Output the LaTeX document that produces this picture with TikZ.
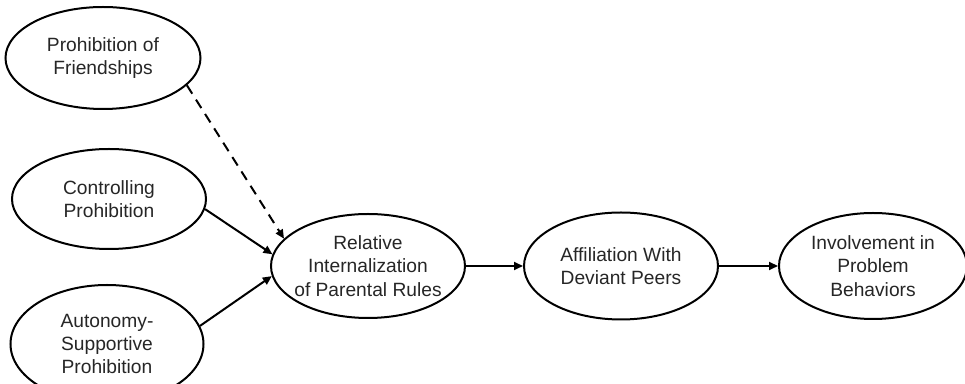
\documentclass[tikz,border=0pt]{standalone}
\usepackage{fontspec}
\setmainfont{Liberation Sans}
\usetikzlibrary{shapes}
\usetikzlibrary{positioning}
\usetikzlibrary{arrows.meta}

\begin{document}
\begin{tikzpicture}[
x=0.5pt, y=-0.5pt,
construct/.style={
ellipse,
line width=1pt,
draw=black,
text=black!85,
align=center,
font=\fontsize{9.6}{11.6}\selectfont,
inner xsep=-4pt,
inner ysep=0pt,
minimum width=97pt,
minimum height=51pt},
myarrow/.style={line width=1pt,-{Triangle[length=4.5pt,width=4pt]}},
node distance=29pt
]
\clip (0,0) rectangle (965,384);
\node[construct,minimum height=52pt] (rel) at (368,266) {Relative\\Internalization\\of Parental Rules};
      \node[construct,right=28.5pt of rel,minimum height=53.5pt] (aff) {Affiliation With\\Deviant Peers};
      \node[construct,right=29.5pt of aff,minimum width=94pt,minimum height=53pt] (inv) {Involvement in\\Problem\\Behaviors};
      \node[construct,left=31.5pt of rel,yshift=33.5pt,minimum height=50pt] (ctrl) {Controlling\\Prohibition};
      \node[construct,above=19pt of ctrl,xshift=-3pt,minimum width=97.5pt] (frnd) {Prohibition of\\Friendships};
      \node[construct,below=17pt of ctrl,xshift=-1pt,minimum width=96.5pt,minimum height=59pt] (auto) {Autonomy-\\Supportive\\Prohibition};
      \draw [myarrow,dash pattern=on 5pt off 3.5pt] (frnd.342) -- (rel.162);
      \foreach \i/\j in {ctrl.354/rel.173, auto.11/rel.186, rel/aff, aff/inv}
       \draw [myarrow] (\i) -- (\j);
\end{tikzpicture}
\end{document}
